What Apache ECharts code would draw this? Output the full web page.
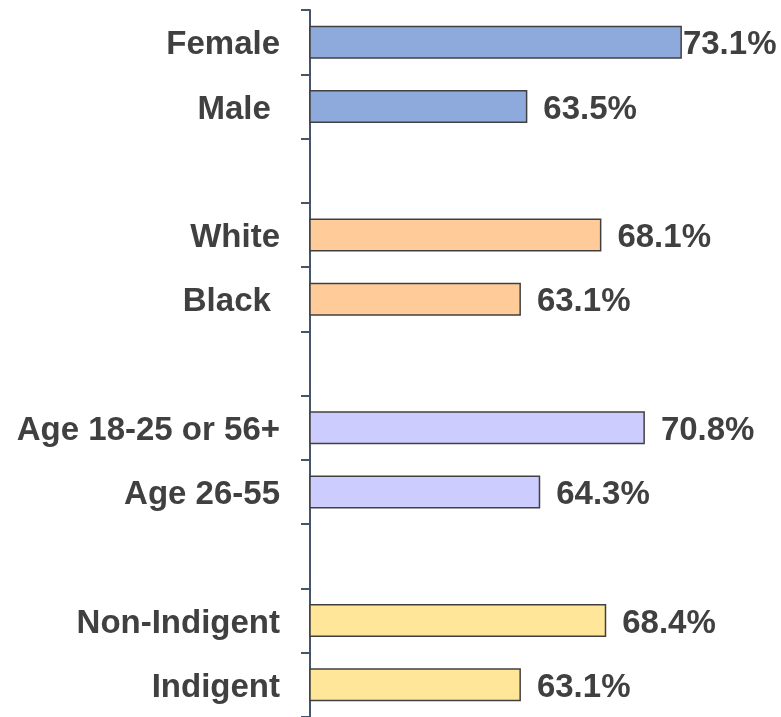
<!DOCTYPE html>
<html>
<head>
<meta charset="utf-8">
<script src="https://cdn.jsdelivr.net/npm/echarts@6/dist/echarts.min.js"></script>
<style>
html,body{margin:0;padding:0;background:#fff;}
#chart{width:781px;height:717px;}
</style>
</head>
<body>
<div id="chart"></div>
<script>
var categories = ['Female', 'Male ', '', 'White', 'Black ', ' ', 'Age 18-25 or 56+', 'Age 26-55', '  ', 'Non-Indigent', 'Indigent'];
var values = [73.1, 63.5, null, 68.1, 63.1, null, 70.8, 64.3, null, 68.4, 63.1];
var groupOf = [0, 0, null, 1, 1, null, 2, 2, null, 3, 3];
var groupColors = ['#8eaadc', '#ffcc99', '#ccccff', '#ffe699'];

var chart = echarts.init(document.getElementById('chart'));
var seriesData = values.map(function (v, i) {
  if (v === null) return '-';
  var item = { value: v, itemStyle: { color: groupColors[groupOf[i]] } };
  if (i === 0) item.label = { distance: 1 };
  return item;
});
var font = 'Liberation Sans, Arial, sans-serif';

chart.setOption({
  animation: false,
  backgroundColor: '#ffffff',
  grid: { left: 310, top: 10, width: 402.5, height: 712, containLabel: false },
  xAxis: {
    type: 'value', min: 50, max: 75,
    show: false,
    splitLine: { show: false }
  },
  yAxis: {
    type: 'category',
    inverse: true,
    data: categories,
    boundaryGap: true,
    axisLine: { show: true, lineStyle: { color: '#44546a', width: 2 } },
    axisTick: { show: true, length: 9, lineStyle: { color: '#44546a', width: 2 } },
    axisLabel: {
      margin: 30,
      interval: 0,
      formatter: function (v) { return '{a|' + v + '}'; },
      rich: {
        a: {
          color: '#404040',
          fontSize: 33,
          fontWeight: 'bold',
          fontFamily: font,
          padding: [6, 0, 0, 0]
        }
      }
    }
  },
  series: [{
    type: 'bar',
    data: seriesData,
    barWidth: 33,
    itemStyle: { borderColor: '#404040', borderWidth: 1.5 },
    label: {
      show: true,
      position: 'right',
      distance: 16,
      offset: [0, 3],
      formatter: function (p) { return p.value + '%'; },
      color: '#404040',
      fontSize: 33,
      fontWeight: 'bold',
      fontFamily: font
    }
  }]
});
</script>
</body>
</html>
